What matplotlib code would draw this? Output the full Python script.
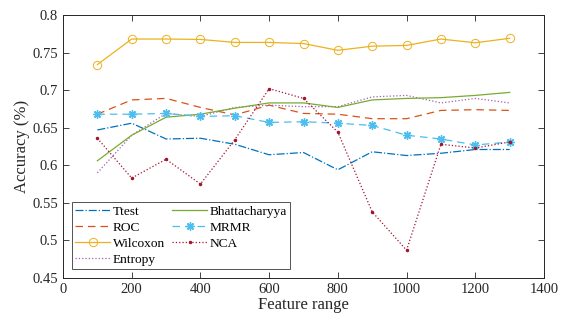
import matplotlib.pyplot as plt

plt.rcParams['font.family'] = ['Liberation Serif', 'DejaVu Serif']

features = [100, 200, 300, 400, 500, 600, 700, 800, 900, 1000, 1100, 1200, 1300]

ttest = [0.647, 0.656, 0.635, 0.636, 0.628, 0.614, 0.617, 0.594, 0.618, 0.613, 0.616, 0.621, 0.621]
roc = [0.668, 0.687, 0.689, 0.677, 0.667, 0.680, 0.669, 0.668, 0.662, 0.662, 0.673, 0.674, 0.673]
wilcoxon = [0.734, 0.768, 0.768, 0.7675, 0.7635, 0.7635, 0.762, 0.753, 0.7585, 0.7595, 0.768, 0.763, 0.769]
entropy = [0.590, 0.640, 0.669, 0.665, 0.677, 0.680, 0.678, 0.678, 0.691, 0.693, 0.683, 0.689, 0.683]
bhattacharyya = [0.606, 0.640, 0.664, 0.668, 0.676, 0.683, 0.683, 0.677, 0.687, 0.689, 0.690, 0.693, 0.697]
mrmr = [0.668, 0.668, 0.669, 0.665, 0.666, 0.657, 0.658, 0.656, 0.653, 0.640, 0.635, 0.627, 0.631]
nca = [0.636, 0.583, 0.608, 0.575, 0.634, 0.702, 0.689, 0.644, 0.538, 0.487, 0.628, 0.623, 0.631]

fig = plt.figure(figsize=(5.61, 3.24), dpi=100)
ax = fig.add_axes([63 / 561, 1 - 278 / 324, 481 / 561, 263 / 324])

lw = 0.9
ax.plot(features, ttest, color='#0072BD', linestyle='-.', linewidth=lw, label='Ttest')
ax.plot(features, roc, color='#D95319', linestyle=(0, (6, 4)), linewidth=lw, label='ROC')
ax.plot(features, wilcoxon, color='#EDB120', linestyle='-', linewidth=lw, marker='o',
        markersize=6, markerfacecolor='none', markeredgewidth=0.7, label='Wilcoxon')
ax.plot(features, entropy, color='#A65BB5', linestyle=':', linewidth=lw, label='Entropy')
ax.plot(features, bhattacharyya, color='#77AC30', linestyle='-', linewidth=lw, label='Bhattacharyya')
ax.plot(features, mrmr, color='#4DBEEE', linestyle=(0, (6, 4)), linewidth=lw, marker=(8, 2, 0),
        markersize=6, markeredgewidth=1.0, label='MRMR')
ax.plot(features, nca, color='#A2142F', linestyle=':', linewidth=lw, marker='.',
        markersize=3, label='NCA')

ax.set_xlim(0, 1400)
ax.set_ylim(0.45, 0.8)
ax.set_xticks(range(0, 1401, 200))
ax.set_yticks([0.45, 0.5, 0.55, 0.6, 0.65, 0.7, 0.75, 0.8])
ax.set_yticklabels(['0.45', '0.5', '0.55', '0.6', '0.65', '0.7', '0.75', '0.8'])
ax.tick_params(direction='in', top=True, right=True, labelsize=10.5, colors='#262626',
               length=4, width=0.6)
for s in ax.spines.values():
    s.set_color('#262626')
    s.set_linewidth(0.7)

ax.set_xlabel('Feature range', fontsize=12, color='#262626', labelpad=1)
ax.set_ylabel('Accuracy (%)', fontsize=12, color='#262626', labelpad=2)

leg = ax.legend(ncol=2, loc='lower left', bbox_to_anchor=(0.0187, 0.034), fontsize=9.6,
                frameon=True, fancybox=False, edgecolor='#262626', handlelength=2.6,
                borderpad=0.25, labelspacing=0.28, columnspacing=0.55, handletextpad=0.2,
                borderaxespad=0)
leg.get_frame().set_linewidth(0.7)

plt.savefig('out.png', dpi=100)
